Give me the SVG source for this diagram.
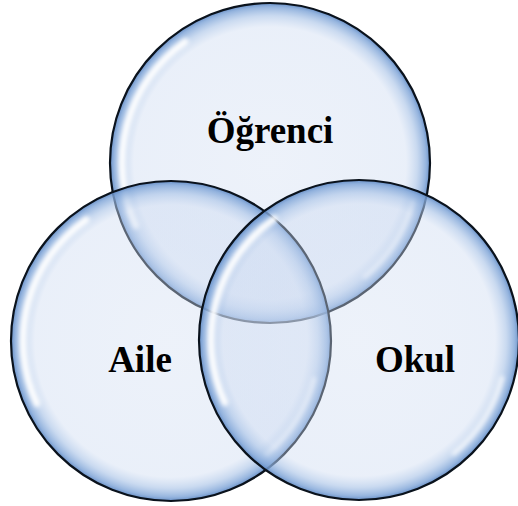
<svg xmlns="http://www.w3.org/2000/svg" xmlns:xlink="http://www.w3.org/1999/xlink" width="518" height="506" viewBox="0 0 518 506">
  <defs>
    <radialGradient id="glass" cx="0" cy="0" r="160" gradientUnits="userSpaceOnUse">
      <stop offset="0" stop-color="#d2def2" stop-opacity="0.4"/>
      <stop offset="0.85" stop-color="#ccdaf1" stop-opacity="0.42"/>
      <stop offset="0.92" stop-color="#a6c1e6" stop-opacity="0.6"/>
      <stop offset="0.975" stop-color="#7ea4d7" stop-opacity="0.82"/>
      <stop offset="1" stop-color="#5b86c2" stop-opacity="0.92"/>
    </radialGradient>
    <filter id="soft" x="-20%" y="-20%" width="140%" height="140%">
      <feGaussianBlur stdDeviation="2"/>
    </filter>
    <g id="bubble">
      <circle r="160" fill="url(#glass)"/>
      <path class="hl" d="M -84.9 -121.2 A 148 148 0 0 0 -134.1 62.5" filter="url(#soft)"/>
      <path class="hl2" d="M 143 38.3 A 148 148 0 0 1 95.1 113.4" filter="url(#soft)"/>
      <circle r="160" class="rim"/>
    </g>
  </defs>
  <style>
    .hl { fill: none; stroke: #ffffff; stroke-width: 7; stroke-opacity: 0.95; stroke-linecap: round; }
    .hl2 { fill: none; stroke: #ffffff; stroke-width: 5; stroke-opacity: 0.7; stroke-linecap: round; }
    .rim { fill: none; stroke: #0a121c; stroke-width: 2.2; }
    .label { font-family: "Liberation Serif", "Times New Roman", serif; font-weight: bold; font-size: 37px; fill: #000000; text-anchor: middle; }
  </style>
  <rect width="518" height="506" fill="#ffffff"/>
  <g id="connectors"/>
  <g id="node-ogrenci">
    <use xlink:href="#bubble" transform="translate(270,163)"/>
  </g>
  <g id="node-aile">
    <use xlink:href="#bubble" transform="translate(171,341)"/>
  </g>
  <g id="node-okul">
    <use xlink:href="#bubble" transform="translate(359,340)"/>
  </g>
  <g id="labels">
    <text class="label" x="270" y="143">Öğrenci</text>
    <text class="label" x="140" y="372">Aile</text>
    <text class="label" x="415" y="372">Okul</text>
  </g>
</svg>
